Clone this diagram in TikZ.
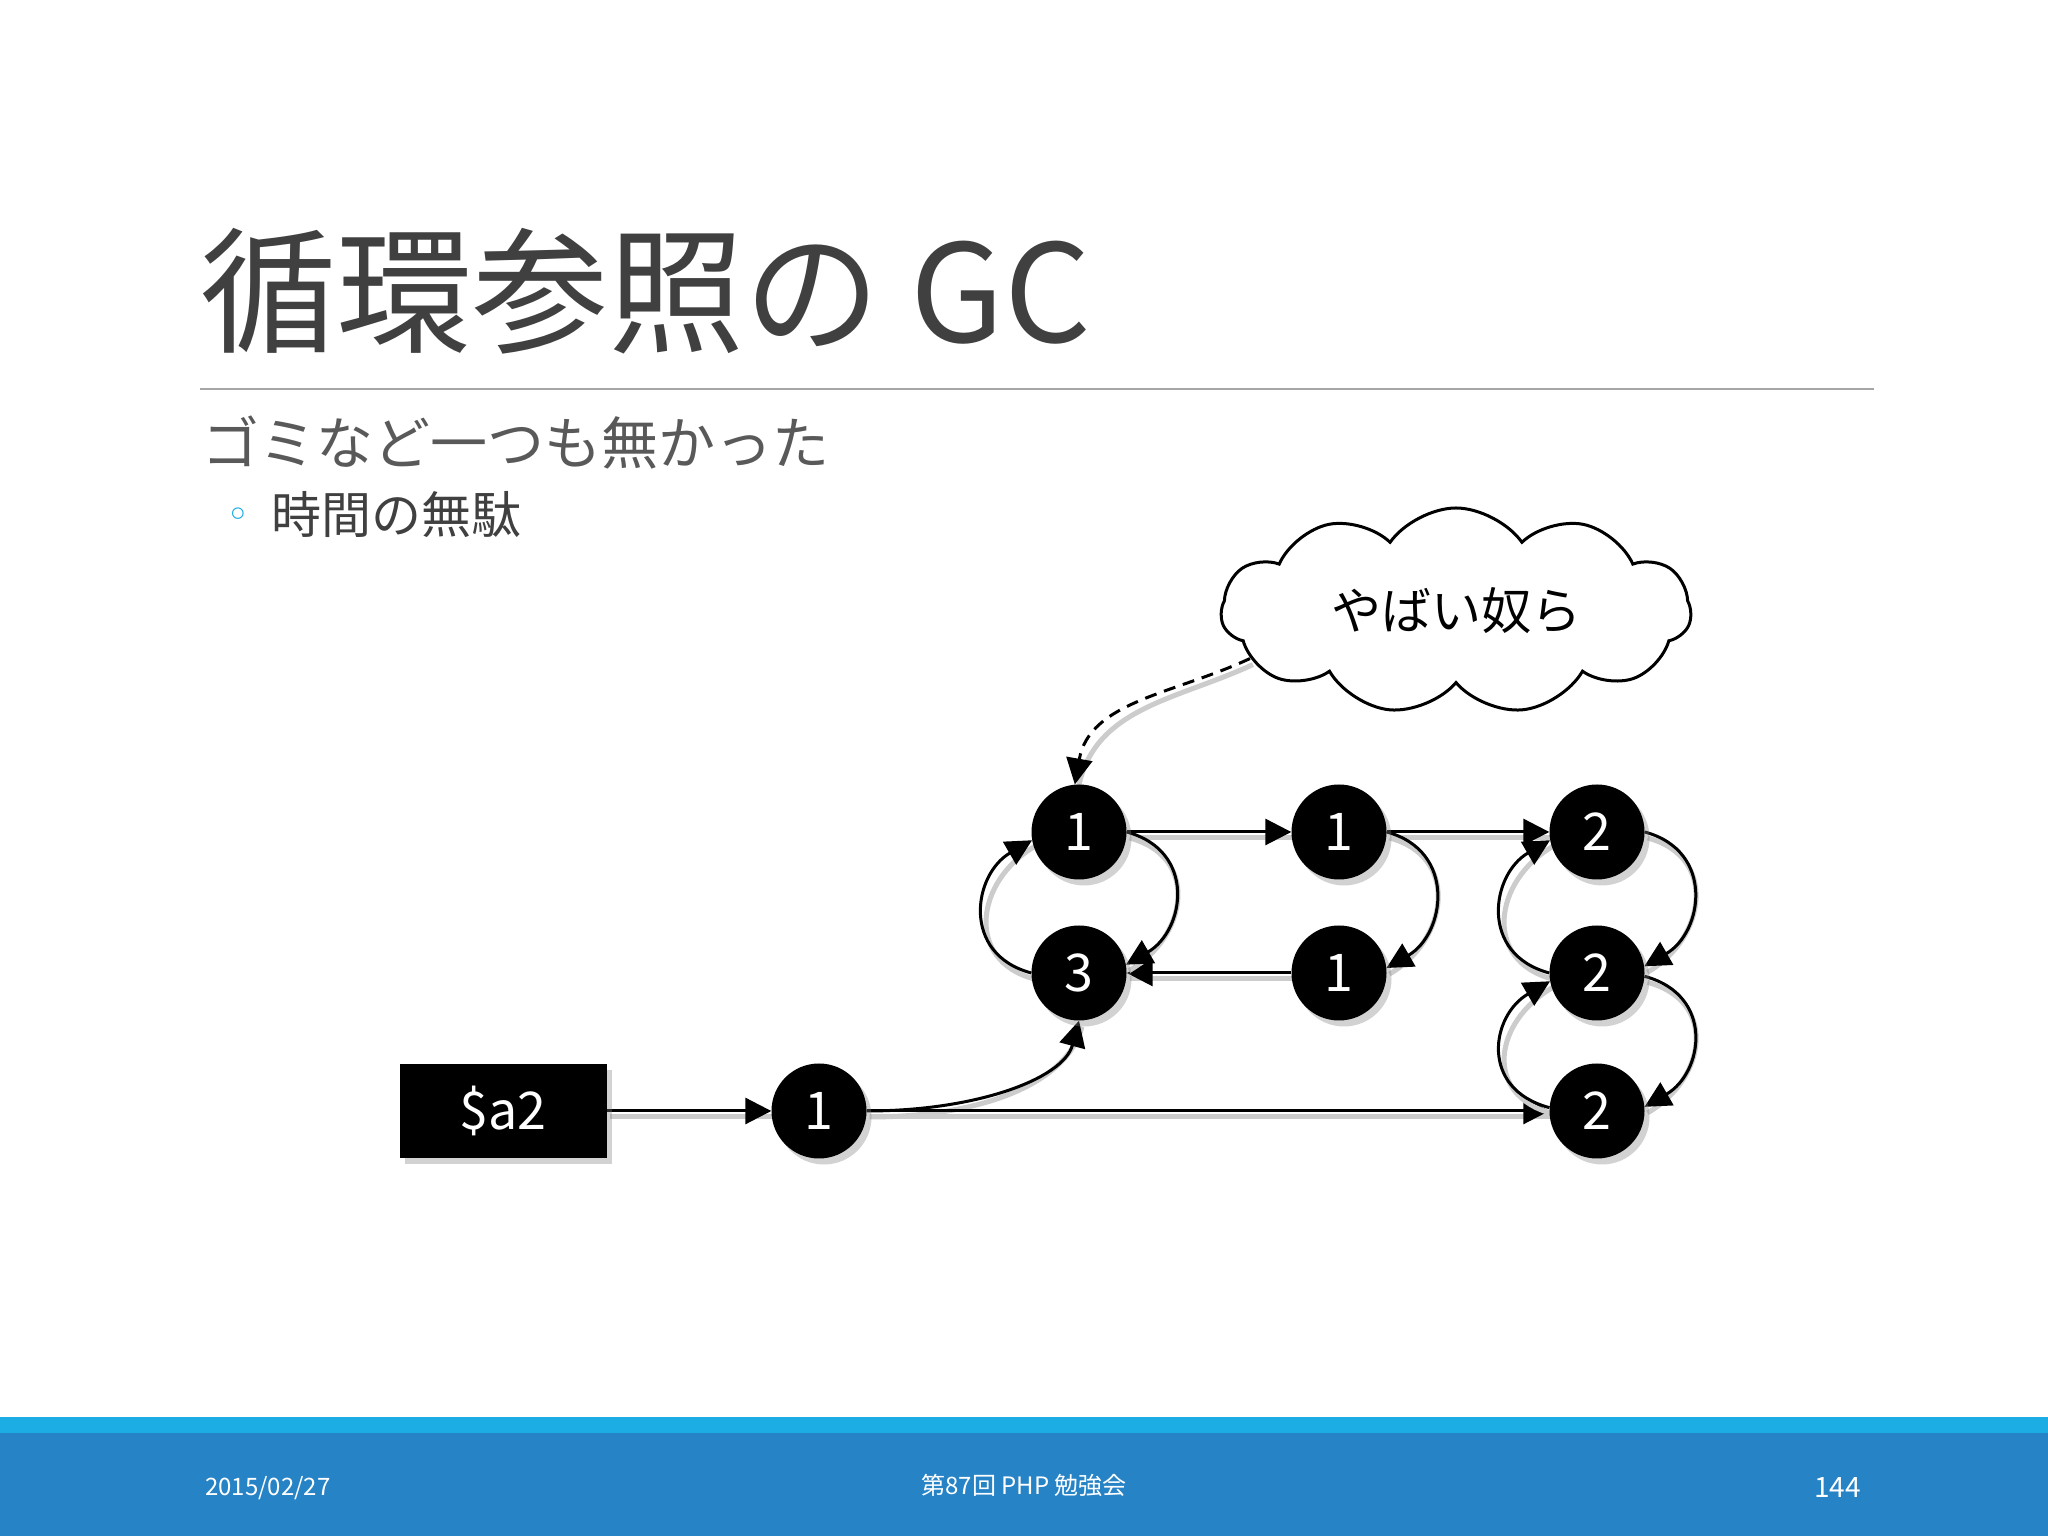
\documentclass[tikz,border=0pt]{standalone}
\usepackage{fontspec}
\setmainfont{Noto Sans CJK JP}
\newfontfamily\symfont{DejaVu Sans}
\usetikzlibrary{arrows.meta,shapes.symbols,shadows}
\definecolor{titlegray}{HTML}{404040}
\definecolor{subgray}{HTML}{595959}
\definecolor{rulegray}{HTML}{A6A6A6}
\definecolor{bulletblue}{HTML}{1CADE4}
\definecolor{bandlight}{HTML}{1CADE4}
\definecolor{banddark}{HTML}{2683C6}
\pgfdeclarelayer{bg}
\pgfdeclarelayer{paper}
\pgfsetlayers{paper,bg,main}
\tikzset{
  nodeshadow/.style={drop shadow={shadow xshift=5pt, shadow yshift=-6pt, opacity=0.35}},
  refnode/.style={circle, fill=black, minimum size=95pt, inner sep=0pt, text=white,
    font=\fontsize{52pt}{52pt}\selectfont, nodeshadow},
  varbox/.style={rectangle, fill=black, minimum width=207pt, minimum height=94pt, inner sep=0pt,
    text=white, font=\fontsize{52pt}{52pt}\selectfont, nodeshadow},
  link/.style={draw=black, line width=3pt, -{Triangle[length=26pt,width=26pt]},
    preaction={draw=black!20, line width=5pt, -, transform canvas={xshift=3pt,yshift=-6pt}}},
  loopr/.style={out=-15, in=30, out distance=73pt, in distance=68pt},
  loopl/.style={out=165, in=-150, out distance=73pt, in distance=68pt},
  bubble/.style={cloud, draw=black, line width=3pt, fill=white, cloud puffs=11, cloud puff arc=110,
    aspect=2.3, minimum width=470pt, minimum height=206pt, inner sep=0pt,
    font=\fontsize{50pt}{50pt}\selectfont},
  foot/.style={text=white, inner sep=0pt}
}
\begin{document}
\begin{tikzpicture}[x=1pt,y=1pt]
\useasboundingbox (0,0) rectangle (2048,1536);
\begin{pgfonlayer}{paper}
\fill[white] (0,0) rectangle (2048,1536);
\fill[banddark] (0,0) rectangle (2048,103);
\fill[bandlight] (0,103) rectangle (2048,119);
\end{pgfonlayer}
% title and text
\node[anchor=base west, inner sep=0pt, text=titlegray, font=\fontsize{136pt}{136pt}\selectfont] (title) at (200,1193) {循環参照の GC};
\draw[rulegray, line width=2pt] (200,1147) -- (1874,1147);
\node[anchor=base west, inner sep=0pt, text=subgray, font=\fontsize{57pt}{57pt}\selectfont] (sub) at (202,1071) {ゴミなど一つも無かった};
\node[anchor=center, inner sep=0pt, text=bulletblue, font=\symfont\fontsize{40pt}{40pt}\selectfont] (bullet) at (238,1018) {◦};
\node[anchor=base west, inner sep=0pt, text=titlegray, font=\fontsize{50pt}{50pt}\selectfont] (item) at (271,1002) {時間の無駄};
% nodes
\node[varbox] (box) at (503,425) {\$a2};
\node[refnode] (D1) at (819,425) {1};
\node[refnode] (A1) at (1079,704) {1};
\node[refnode] (B1) at (1339,704) {1};
\node[refnode] (C2) at (1597,704) {2};
\node[refnode] (A3) at (1079,563) {3};
\node[refnode] (B3) at (1339,563) {1};
\node[refnode] (C3) at (1597,563) {2};
\node[refnode] (C4) at (1597,425) {2};
\node[bubble] (cloud) at (1456,925) {やばい奴ら};
% edges
\begin{pgfonlayer}{bg}
\draw[link] (box) -- (D1);
\draw[link] (D1.east) to[out=0, in=-105, out distance=110pt, in distance=60pt] (A3.south);
\draw[link] (D1) -- (C4);
\draw[link] (A1) -- (B1);
\draw[link] (B1) -- (C2);
\draw[link] (B3) -- (A3);
\draw[link] (A1.east) to[loopr] (A3.10);
\draw[link] (A3.west) to[loopl] (A1.190);
\draw[link] (B1.east) to[loopr] (B3.6);
\draw[link] (C2.east) to[loopr] (C3.8);
\draw[link] (C3.west) to[loopl] (C2.190);
\draw[link] (C3.-4) to[loopr] (C4.5);
\draw[link] (C4.176) to[loopl] (C3.190);
\draw[link, dash pattern=on 12pt off 8pt] (cloud.193) to[out=-155, in=80] (A1.95);
\end{pgfonlayer}
% footer text
\node[foot, anchor=west, font=\fontsize{24pt}{24pt}\selectfont] (date) at (205,48) {2015/02/27};
\node[foot, anchor=center, font=\fontsize{24pt}{24pt}\selectfont] (event) at (1024,51) {第87回 PHP 勉強会};
\node[foot, anchor=east, font=\fontsize{28pt}{28pt}\selectfont] (page) at (1861,48) {144};
\end{tikzpicture}
\end{document}
